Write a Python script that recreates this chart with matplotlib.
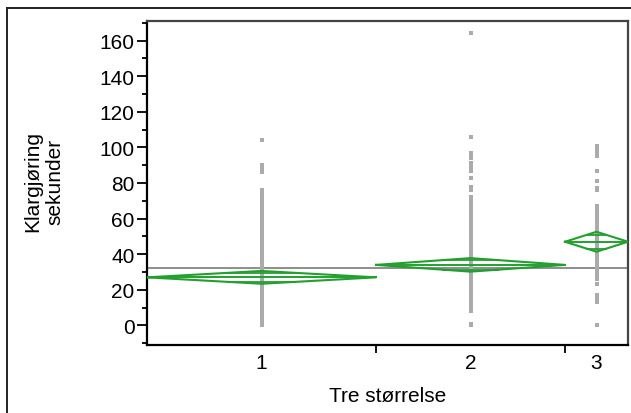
import numpy as np
import matplotlib
matplotlib.use('Agg')
import matplotlib.pyplot as plt
from matplotlib.lines import Line2D

plt.rcParams['font.family'] = ['Liberation Sans', 'DejaVu Sans']

# group labels, sample-size weights (group width), means and CI half widths
groups = ['1', '2', '3']
group_n = [229, 189, 63]
group_mean = [27.0, 34.0, 47.0]
group_ci = [3.6, 3.8, 5.6]
grand_mean = 32.5

g1 = [0, 1, 2, 3, 4, 5, 6, 7, 8, 9, 10, 11, 12, 13, 14, 15, 16, 17, 18, 19,
      20, 21, 22, 23, 24, 25, 26, 27, 28, 29, 30, 31, 32, 33, 34, 35, 36, 37,
      38, 39, 40, 41, 42, 43, 44, 45, 46, 47, 48, 49, 50, 51, 52, 53, 54, 55,
      56, 57, 58, 59, 60, 61, 62, 63, 64, 65, 66, 67, 68, 69, 70, 71, 72, 73,
      74, 76, 86, 87, 88, 89, 90, 104]
g2 = [0, 1, 8, 9, 10, 12, 13, 14, 15, 16, 17, 18, 19, 20, 21, 22, 23, 24, 25,
      26, 27, 28, 29, 30, 31, 32, 33, 34, 35, 36, 37, 38, 39, 40, 41, 42, 43,
      44, 45, 46, 47, 48, 49, 50, 51, 52, 53, 54, 55, 56, 57, 58, 59, 60, 61,
      62, 63, 64, 65, 66, 67, 68, 69, 70, 71, 72, 76, 77, 78, 83, 87, 88, 89,
      91, 94, 95, 96, 97, 106, 164]
g3 = [0, 13, 15, 16, 17, 23, 26, 27, 28, 29, 30, 31, 32, 33, 34, 35, 36, 37,
      38, 39, 40, 41, 42, 43, 44, 45, 46, 47, 48, 49, 50, 51, 52, 53, 54, 55,
      56, 57, 58, 59, 60, 61, 62, 63, 64, 65, 66, 67, 76, 77, 81, 87, 95, 96,
      97, 98, 99, 100, 101]
values = [g1, g2, g3]

fig = plt.figure(figsize=(6.31, 4.14), dpi=100)
ax = fig.add_axes([147/631, 1-346/414, 481/631, 324/414])

green = '#22a02e'
edges = np.concatenate([[0], np.cumsum(group_n)])
centers = (edges[:-1] + edges[1:]) / 2

ax.axhline(grand_mean, color='#7a7a7a', lw=1.2, zorder=1)

for i in range(3):
    a, b, c = edges[i], edges[i+1], centers[i]
    m, h = group_mean[i], group_ci[i]
    ax.plot([c]*len(values[i]), values[i], 's', color='#ababab', ms=2.6,
            mew=0, zorder=2)
    ax.plot([a, c, b, c, a], [m, m+h, m, m-h, m], color=green, lw=1.5, zorder=3)
    ax.plot([a, b], [m, m], color=green, lw=1.4, zorder=3)
    hw = (b - a) / 2 * (1 - 1/np.sqrt(2))
    for s in (1, -1):
        ax.plot([c-hw, c+hw], [m + s*h/np.sqrt(2)]*2, color=green, lw=1.3, zorder=3)

ax.set_xlim(0, edges[-1])
ax.set_ylim(-11, 171)
ax.set_yticks(np.arange(0, 161, 20))
ax.set_yticks(np.arange(-10, 171, 10), minor=True)
ax.tick_params(axis='y', which='major', length=7, width=1.3, pad=2, labelsize=15)
ax.tick_params(axis='y', which='minor', length=3.5, width=1.3)

ax.set_xticks(centers)
ax.set_xticklabels(groups)
ax.set_xticks(edges[1:-1], minor=True)
ax.tick_params(axis='x', which='major', length=0, pad=6, labelsize=15)
ax.tick_params(axis='x', which='minor', length=6, width=1.3)

for sp in ['left', 'bottom']:
    ax.spines[sp].set_linewidth(1.6)
for sp in ['top', 'right']:
    ax.spines[sp].set_linewidth(1.6)
    ax.spines[sp].set_color('#444444')

ax.set_xlabel('Tre størrelse', fontsize=15, labelpad=10)
fig.text(44/631, 1-182/414, 'Klargjøring\nsekunder', rotation=90, ha='center',
         va='center', fontsize=15, multialignment='center', linespacing=1.25)

# outer frame
fig.add_artist(Line2D([7/631, 7/631], [0, 1-9/414], color='#222222', lw=1.4,
                      transform=fig.transFigure))
fig.add_artist(Line2D([7/631, 1], [1-9/414, 1-9/414], color='#222222', lw=1.4,
                      transform=fig.transFigure))

plt.savefig('out.png', dpi=100)
